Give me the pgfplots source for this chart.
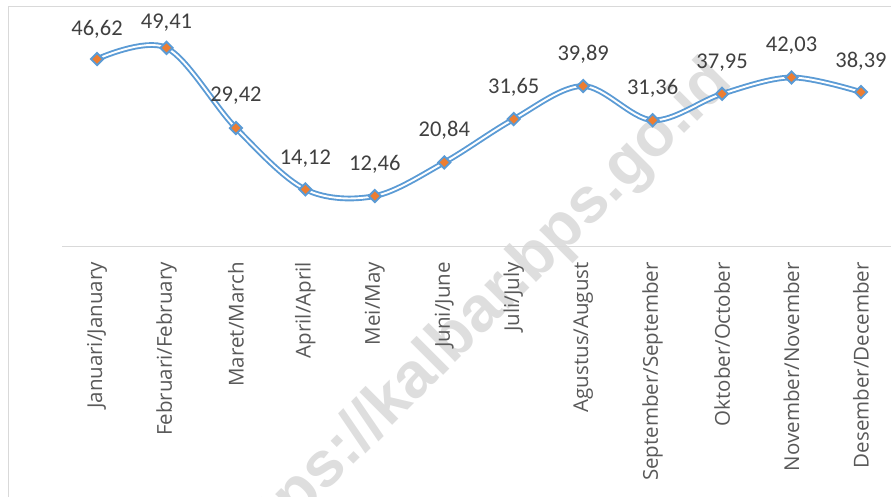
\documentclass[border=0pt]{standalone}
\usepackage{fontspec}
\setmainfont{Carlito}
\newfontfamily\catfont{Open Sans}
\newfontfamily\wmfont{Liberation Sans}
\usepackage{pgfplots}
\usepackage{pgfplotstable}
\pgfplotsset{compat=1.18}
\definecolor{lineblue}{HTML}{5B9BD5}
\definecolor{markorange}{HTML}{ED7D31}
\definecolor{labelgray}{HTML}{404040}
\definecolor{catgray}{HTML}{595959}
\definecolor{framegray}{HTML}{D9D9D9}

% month, value, label offset above the point
\pgfplotstableread{
x y dy
0 46.62 23.5
1 49.41 19.5
2 29.42 26.5
3 14.12 25
4 12.46 25.5
5 20.84 25.5
6 31.65 25.5
7 39.89 25.5
8 31.36 25.5
9 37.95 25.5
10 42.03 25.5
11 38.39 24.5
}\datatable

\begin{document}
\begin{tikzpicture}
% watermark
\node[rotate=45, text=black!13, font=\wmfont\bfseries\fontsize{64}{64}\selectfont]
  at (475pt,176pt) {https://kalbar.bps.go.id};
% chart frame
\draw[framegray, line width=1pt] (8pt,-10pt) -- (8pt,489pt) -- (900pt,489pt);
\begin{axis}[
    at={(62.3pt,250pt)}, anchor=south west,
    scale only axis,
    width=833.4pt, height=220.55pt,
    xmin=-0.5, xmax=11.5,
    ymin=0, ymax=55,
    axis x line*=bottom,
    axis y line=none,
    x axis line style={framegray, line width=1pt},
    major tick length=0pt,
    xtick={0,...,11},
    xticklabels={Januari/January, Februari/February, Maret/March, April/April,
      Mei/May, Juni/June, Juli/July, Agustus/August, September/September,
      Oktober/October, November/November, Desember/December},
    xticklabel style={rotate=90, anchor=east, inner sep=0pt,
      font=\catfont\fontsize{20.5}{20.5}\selectfont, text=catgray},
    xticklabel shift=16pt,
    clip=false,
]
\addplot[draw=lineblue, double=white, double distance=1.9pt, line width=1.9pt,
    smooth, tension=0.55,
    mark=square*, mark size=4.3pt,
    mark options={rotate=45, fill=markorange, draw=none},
    point meta=y,
    visualization depends on={\thisrow{dy} \as \dy},
    nodes near coords={\pgfmathprintnumber[fixed, fixed zerofill, precision=2,
      use comma, assume math mode=true]{\pgfplotspointmeta}},
    nodes near coords style={anchor=base, yshift=\dy pt, inner sep=0pt,
      font=\fontsize{22.5}{22.5}\selectfont, text=labelgray},
] table[x=x, y=y] {\datatable};
\end{axis}
\pgfresetboundingbox
\path[use as bounding box] (0pt,0pt) rectangle (891pt,496pt);
\end{tikzpicture}
\end{document}
